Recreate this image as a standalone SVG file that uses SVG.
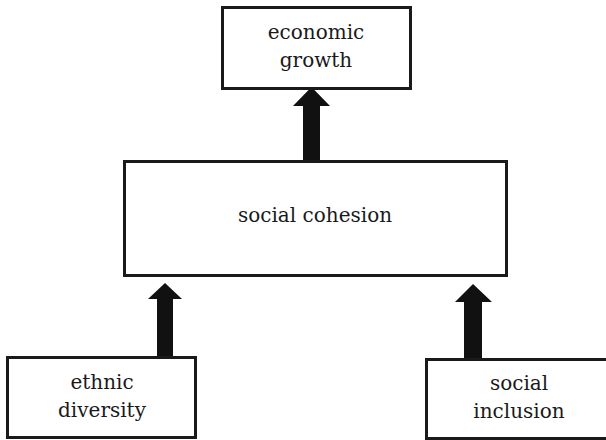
<svg xmlns="http://www.w3.org/2000/svg" width="606" height="440" viewBox="0 0 606 440">
<style>
.box{fill:#fff;stroke:#1a1a1a;stroke-width:3}
.lbl{font-family:"DejaVu Serif","Liberation Serif",serif;font-size:20px;fill:#1a1a1a;text-anchor:middle}
.arr{fill:#111;stroke:none}
</style>
<rect width="606" height="440" fill="#fff"/>
<g id="connectors">
<polygon class="arr" points="303,162 303,106 293,106 311.5,87 330,106 320,106 320,162"/>
<polygon class="arr" points="157,357 157,299 148,299 165,283 182,299 173,299 173,357"/>
<polygon class="arr" points="464,359 464,302 455,302 473,284 492,302 482,302 482,359"/>
</g>
<g id="economic-growth">
<rect class="box" x="222.5" y="7.5" width="188" height="81"/>
<text class="lbl" x="316" y="39">economic</text>
<text class="lbl" x="316" y="67">growth</text>
</g>
<g id="social-cohesion">
<rect class="box" x="124.5" y="161.5" width="382" height="114"/>
<text class="lbl" x="315" y="222">social cohesion</text>
</g>
<g id="ethnic-diversity">
<rect class="box" x="7.5" y="357.5" width="188" height="80"/>
<text class="lbl" x="102" y="389">ethnic</text>
<text class="lbl" x="102" y="417">diversity</text>
</g>
<g id="social-inclusion">
<rect class="box" x="426.5" y="359.5" width="184" height="79"/>
<text class="lbl" x="519" y="390">social</text>
<text class="lbl" x="519" y="418">inclusion</text>
</g>
</svg>
